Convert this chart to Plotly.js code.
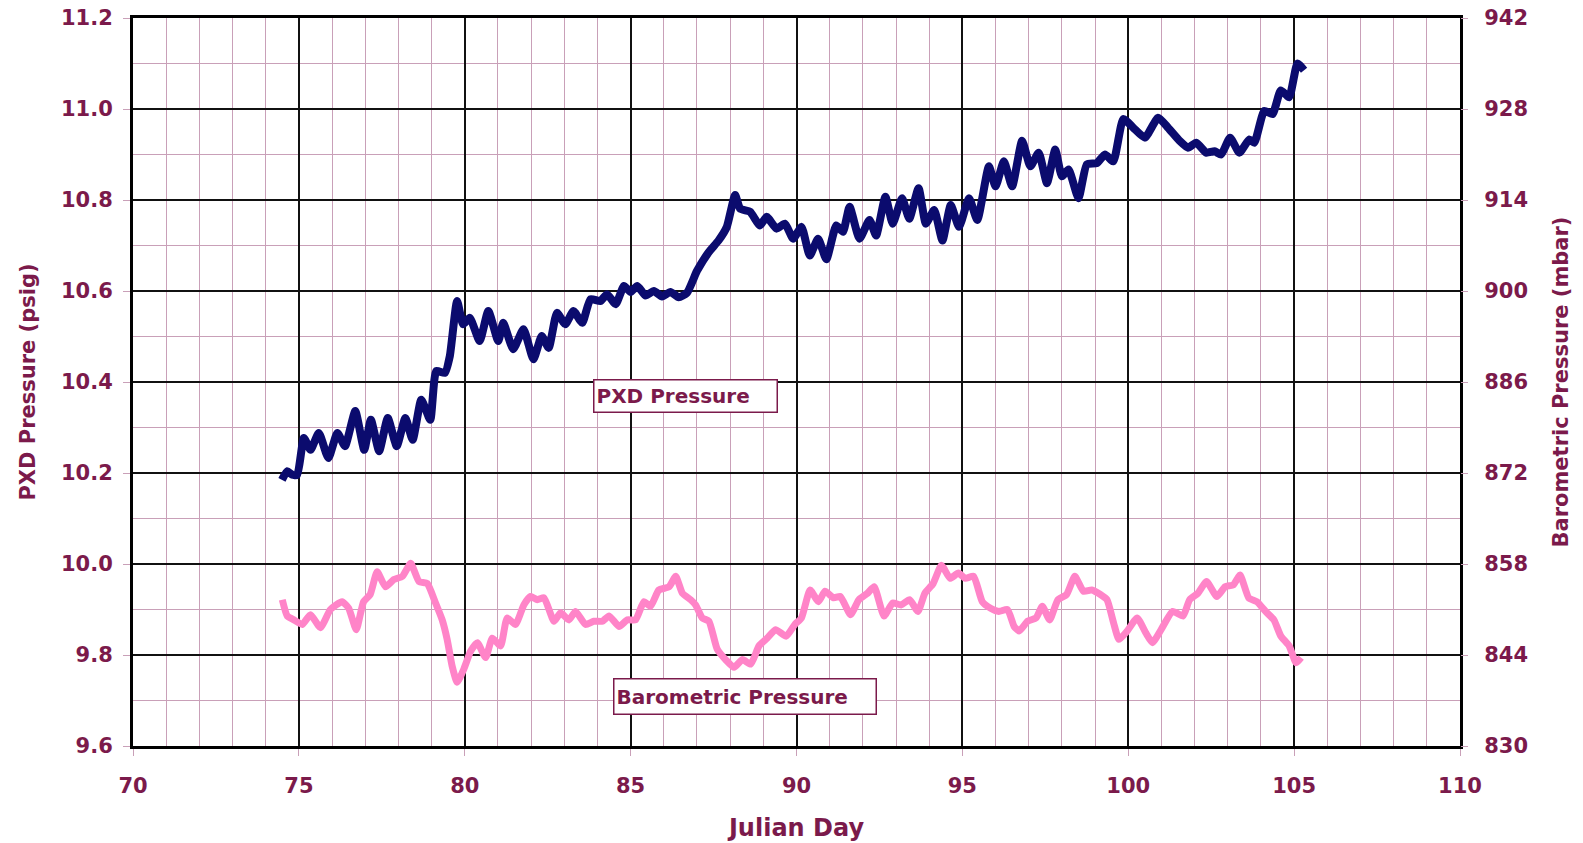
<!DOCTYPE html>
<html>
<head>
<meta charset="utf-8">
<script src="https://cdn.plot.ly/plotly-3.0.1.min.js"></script>
<style>
  html, body { margin: 0; padding: 0; background: #ffffff; }
  #chart { width: 1583px; height: 843px; }
</style>
</head>
<body>
<div id="chart"></div>
<script>
// PXD transducer pressure (psig) by Julian day
const pxdDay = [74.49, 74.65, 74.8, 74.95, 75.15, 75.35, 75.6, 75.89, 76.16, 76.39, 76.7, 76.97, 77.17, 77.42, 77.68, 77.95, 78.21, 78.43, 78.69, 78.96, 79.14, 79.4, 79.55, 79.77, 79.95, 80.15, 80.45, 80.71, 81.01, 81.16, 81.46, 81.77, 82.07, 82.32, 82.53, 82.78, 83.03, 83.28, 83.54, 83.79, 84.09, 84.29, 84.55, 84.8, 85.0, 85.2, 85.45, 85.7, 85.95, 86.2, 86.45, 86.7, 87.0, 87.35, 87.65, 87.9, 88.15, 88.3, 88.6, 88.9, 89.1, 89.4, 89.65, 89.9, 90.15, 90.4, 90.65, 90.9, 91.2, 91.4, 91.6, 91.9, 92.2, 92.4, 92.68, 92.9, 93.18, 93.4, 93.68, 93.9, 94.15, 94.4, 94.65, 94.9, 95.2, 95.45, 95.8, 96.0, 96.25, 96.5, 96.8, 97.05, 97.3, 97.55, 97.8, 98.0, 98.2, 98.5, 98.75, 99.05, 99.3, 99.55, 99.85, 100.15, 100.5, 100.9, 101.2, 101.55, 101.8, 102.05, 102.35, 102.6, 102.8, 103.07, 103.35, 103.65, 103.8, 104.1, 104.35, 104.6, 104.85, 105.1, 105.3];
const pxdPsig = [10.185, 10.204, 10.196, 10.196, 10.277, 10.251, 10.288, 10.233, 10.288, 10.259, 10.336, 10.251, 10.317, 10.248, 10.321, 10.259, 10.321, 10.273, 10.361, 10.317, 10.424, 10.42, 10.457, 10.578, 10.527, 10.541, 10.49, 10.556, 10.49, 10.53, 10.472, 10.516, 10.45, 10.501, 10.475, 10.552, 10.527, 10.556, 10.53, 10.582, 10.578, 10.593, 10.571, 10.611, 10.598, 10.611, 10.59, 10.6, 10.588, 10.598, 10.586, 10.596, 10.644, 10.685, 10.711, 10.741, 10.811, 10.781, 10.774, 10.744, 10.763, 10.737, 10.748, 10.715, 10.741, 10.678, 10.715, 10.67, 10.744, 10.73, 10.785, 10.715, 10.756, 10.722, 10.807, 10.748, 10.804, 10.759, 10.826, 10.748, 10.778, 10.711, 10.789, 10.741, 10.804, 10.756, 10.874, 10.83, 10.885, 10.83, 10.93, 10.874, 10.904, 10.837, 10.911, 10.852, 10.867, 10.804, 10.878, 10.881, 10.9, 10.885, 10.978, 10.959, 10.937, 10.981, 10.959, 10.93, 10.915, 10.926, 10.904, 10.907, 10.9, 10.937, 10.904, 10.933, 10.926, 10.996, 10.989, 11.041, 11.026, 11.1, 11.085];

// Barometric pressure (mbar) by Julian day
const baroDay = [74.5, 74.65, 74.85, 75.1, 75.35, 75.65, 75.95, 76.3, 76.5, 76.73, 76.95, 77.15, 77.36, 77.61, 77.86, 78.12, 78.37, 78.62, 78.87, 79.12, 79.32, 79.47, 79.62, 79.77, 79.97, 80.18, 80.38, 80.63, 80.83, 81.08, 81.28, 81.53, 81.78, 81.98, 82.19, 82.39, 82.69, 82.89, 83.14, 83.34, 83.64, 83.89, 84.15, 84.35, 84.65, 84.9, 85.15, 85.4, 85.6, 85.85, 86.16, 86.36, 86.56, 86.81, 86.96, 87.16, 87.36, 87.61, 87.86, 88.12, 88.37, 88.62, 88.87, 89.12, 89.37, 89.69, 89.95, 90.15, 90.41, 90.66, 90.86, 91.12, 91.32, 91.63, 91.88, 92.14, 92.34, 92.64, 92.9, 93.15, 93.41, 93.66, 93.87, 94.12, 94.37, 94.63, 94.88, 95.09, 95.34, 95.6, 95.85, 96.1, 96.36, 96.56, 96.71, 96.97, 97.22, 97.41, 97.63, 97.88, 98.14, 98.39, 98.65, 98.9, 99.16, 99.36, 99.56, 99.72, 99.97, 100.27, 100.53, 100.73, 100.99, 101.34, 101.65, 101.85, 102.1, 102.36, 102.67, 102.92, 103.17, 103.37, 103.63, 103.88, 104.14, 104.39, 104.6, 104.85, 105.06, 105.21];
const baroMbar = [852.5, 850.0, 849.4, 848.7, 850.2, 848.2, 851.0, 852.2, 851.2, 847.9, 852.2, 853.3, 856.8, 854.5, 855.6, 856.1, 858.1, 855.3, 855.0, 852.0, 849.4, 846.4, 842.3, 839.8, 841.8, 844.6, 845.9, 843.6, 846.6, 845.4, 849.7, 848.7, 851.7, 853.0, 852.5, 852.8, 849.2, 850.5, 849.4, 850.7, 848.7, 849.2, 849.2, 850.0, 848.4, 849.4, 849.4, 852.2, 851.5, 854.0, 854.5, 856.1, 853.5, 852.5, 851.7, 849.7, 849.2, 844.9, 843.3, 842.1, 843.3, 842.6, 845.4, 846.6, 847.9, 846.9, 848.7, 849.7, 854.0, 852.2, 853.8, 852.8, 853.0, 850.2, 852.5, 853.5, 854.5, 850.0, 852.0, 851.7, 852.5, 850.7, 853.5, 855.0, 857.8, 855.8, 856.6, 855.8, 856.1, 852.2, 851.2, 850.7, 851.0, 848.4, 847.7, 849.2, 849.7, 851.5, 849.4, 852.5, 853.3, 856.1, 853.8, 854.0, 853.3, 852.5, 848.9, 846.4, 847.7, 849.7, 847.4, 845.9, 847.9, 850.7, 850.0, 852.5, 853.5, 855.3, 853.0, 854.5, 854.8, 856.3, 852.8, 852.2, 850.7, 849.4, 846.9, 845.4, 842.8, 843.6];

const seriesNames = ['PXD Pressure', 'Barometric Pressure'];

const maroon = '#7b1a4b';
const gridPink = '#c9a0b8';
const fontFamily = 'DejaVu Sans, Verdana, sans-serif';
const labelFont = { family: fontFamily, size: 21, color: maroon, weight: 'bold' };
const titleFont = { family: fontFamily, size: 21, color: maroon, weight: 'bold' };
const boxFont = { family: fontFamily, size: 20, color: maroon, weight: 'bold' };

const traces = [
  {
    x: pxdDay, y: pxdPsig, name: seriesNames[0], type: 'scatter', mode: 'lines',
    line: { color: '#0b0b6e', width: 8, shape: 'spline', smoothing: 0.5 },
    yaxis: 'y'
  },
  {
    x: baroDay, y: baroMbar, name: seriesNames[1], type: 'scatter', mode: 'lines',
    line: { color: '#ff84c8', width: 7, shape: 'spline', smoothing: 0.5 },
    yaxis: 'y2'
  }
];

const layout = {
  width: 1583, height: 843,
  margin: { l: 133, r: 123, t: 18, b: 97 },
  paper_bgcolor: '#ffffff', plot_bgcolor: '#ffffff',
  showlegend: false,
  xaxis: {
    range: [70, 110], dtick: 5, tick0: 70,
    showgrid: true, gridcolor: '#111111', gridwidth: 2,
    minor: { dtick: 1, showgrid: true, gridcolor: gridPink, gridwidth: 1, ticks: '' },
    showline: true, linecolor: '#000000', linewidth: 3, mirror: true,
    ticks: 'outside', ticklen: 7, tickcolor: gridPink, tickwidth: 1,
    ticklabelstandoff: 12,
    tickfont: labelFont, zeroline: false,
    title: { text: 'Julian Day', font: { family: fontFamily, size: 24, color: maroon, weight: 'bold' }, standoff: 22 }
  },
  yaxis: {
    range: [9.6, 11.2], dtick: 0.2, tick0: 9.6, tickformat: '.1f',
    showgrid: true, gridcolor: '#111111', gridwidth: 2,
    minor: { dtick: 0.1, showgrid: true, gridcolor: gridPink, gridwidth: 1, ticks: '' },
    showline: true, linecolor: '#000000', linewidth: 3, mirror: true,
    ticks: 'outside', ticklen: 7, tickcolor: gridPink, tickwidth: 1,
    ticklabelstandoff: 6,
    tickfont: labelFont, zeroline: false,
    title: { text: 'PXD Pressure (psig)', font: titleFont, standoff: 20 }
  },
  yaxis2: {
    range: [830, 942], dtick: 14, tick0: 830,
    overlaying: 'y', side: 'right',
    showgrid: false, zeroline: false,
    ticks: 'outside', ticklen: 7, tickcolor: gridPink, tickwidth: 1,
    ticklabelstandoff: 12,
    tickfont: labelFont,
    title: { text: 'Barometric Pressure (mbar)', font: titleFont, standoff: 26 }
  },
  annotations: [
    {
      x: 86.65, y: 10.37, xref: 'x', yref: 'y',
      text: seriesNames[0], showarrow: false,
      font: boxFont,
      align: 'left', width: 178, height: 27,
      bgcolor: '#ffffff', bordercolor: maroon, borderwidth: 1.5, borderpad: 2
    },
    {
      x: 88.44, y: 9.708, xref: 'x', yref: 'y',
      text: seriesNames[1], showarrow: false,
      font: boxFont,
      align: 'left', width: 257, height: 30,
      bgcolor: '#ffffff', bordercolor: maroon, borderwidth: 1.5, borderpad: 2
    }
  ]
};

Plotly.newPlot('chart', traces, layout, { displayModeBar: false, staticPlot: true });
</script>
</body>
</html>
